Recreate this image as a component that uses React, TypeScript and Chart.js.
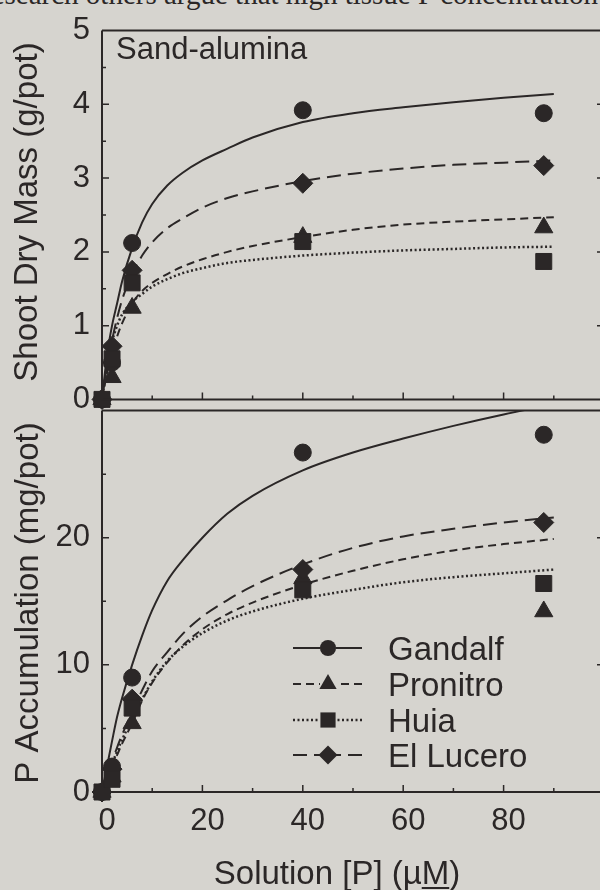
import React, { useEffect, useRef } from 'react';
import { Chart, registerables } from 'chart.js';

Chart.register(...registerables);

const INK = '#2b2727';
const BG = '#d6d4cf';
const FONT = "'Liberation Sans', Arial, Helvetica, sans-serif";

// ---------- data ----------
const SERIES = ['Gandalf', 'Pronitro', 'Huia', 'El Lucero'];
const POINT_X = [0, 2, 6, 40, 88];

// Shoot dry mass (g/pot), measured
const MASS_GANDALF = [0, 0.5, 2.12, 3.92, 3.88];
const MASS_PRONITRO = [0, 0.3, 1.24, 2.2, 2.33];
const MASS_HUIA = [0, 0.55, 1.58, 2.14, 1.87];
const MASS_ELLUCERO = [0, 0.72, 1.75, 2.93, 3.17];

// P accumulation (mg/pot), measured
const ACC_GANDALF = [0, 2.0, 9.0, 26.7, 28.1];
const ACC_PRONITRO = [0, 1.2, 5.4, 16.8, 14.2];
const ACC_HUIA = [0, 1.0, 6.6, 15.9, 16.4];
const ACC_ELLUCERO = [0, 1.8, 7.3, 17.5, 21.2];

// fitted curves
const CURVE_X = [0, 1, 2, 3, 4, 6, 8, 10, 13, 16, 20, 25, 30, 40, 50, 60, 70, 80, 90];
const MASS_FIT_GANDALF = [0, 0.6, 1.0, 1.3, 1.6, 2.05, 2.4, 2.65, 2.9, 3.07, 3.24, 3.4, 3.55, 3.76, 3.88, 3.96, 4.03, 4.09, 4.14];
const MASS_FIT_PRONITRO = [0, 0.35, 0.62, 0.85, 1.03, 1.3, 1.47, 1.58, 1.7, 1.8, 1.9, 2.0, 2.08, 2.2, 2.3, 2.37, 2.41, 2.44, 2.47];
const MASS_FIT_HUIA = [0, 0.45, 0.78, 1.0, 1.15, 1.32, 1.43, 1.53, 1.63, 1.71, 1.78, 1.85, 1.89, 1.95, 1.99, 2.02, 2.04, 2.06, 2.07];
const MASS_FIT_ELLUCERO = [0, 0.45, 0.8, 1.1, 1.35, 1.7, 1.95, 2.13, 2.32, 2.45, 2.6, 2.73, 2.82, 2.96, 3.06, 3.13, 3.18, 3.21, 3.24];

const ACC_FIT_GANDALF = [0, 2.0, 4.0, 5.9, 7.4, 10.0, 12.3, 14.3, 16.6, 18.2, 20.0, 21.9, 23.3, 25.3, 26.7, 27.8, 28.8, 29.7, 30.5];
const ACC_FIT_PRONITRO = [0, 1.0, 2.0, 2.9, 3.8, 5.4, 7.2, 8.6, 10.2, 11.5, 12.8, 14.0, 14.9, 16.3, 17.4, 18.3, 19.0, 19.5, 19.9];
const ACC_FIT_HUIA = [0, 1.1, 2.2, 3.2, 4.1, 5.8, 7.3, 8.7, 10.3, 11.4, 12.5, 13.5, 14.2, 15.2, 15.9, 16.5, 16.9, 17.2, 17.5];
const ACC_FIT_ELLUCERO = [0, 1.2, 2.4, 3.5, 4.5, 6.3, 8.0, 9.5, 11.0, 12.4, 13.8, 15.1, 16.2, 17.9, 19.2, 20.1, 20.7, 21.2, 21.6];

// ticks
const MASS_TICKS = [0, 1, 2, 3, 4, 5];
const MASS_MINOR = [0.5, 1.5, 2.5, 3.5, 4.5];
const ACC_TICKS = [0, 10, 20];
const ACC_MINOR = [5, 15, 25];
const X_TICKS = [0, 20, 40, 60, 80];
const X_MINOR = [10, 30, 50, 70, 90];

// ---------- styles ----------
const STYLES: Record<string, { shape: string; r: number; dash: number[]; lw: number }> = {
  Gandalf: { shape: 'circle', r: 8.5, dash: [], lw: 2 },
  Pronitro: { shape: 'triangle', r: 10.5, dash: [8, 5], lw: 2 },
  Huia: { shape: 'rect', r: 11.3, dash: [2, 2.5], lw: 2.5 },
  'El Lucero': { shape: 'rectRot', r: 10, dash: [14, 7], lw: 2 },
};

const TOP_H = 430;
const BOT_TOP = 380;
const BOT_H = 510;
const CW = 606;

function curveDs(ys: number[], name: string) {
  const s = STYLES[name];
  return {
    label: name + ' fit',
    data: CURVE_X.map((x, i) => ({ x, y: ys[i] })),
    borderColor: INK,
    borderWidth: s.lw,
    borderDash: s.dash,
    pointRadius: 0,
    cubicInterpolationMode: 'monotone',
    fill: false,
    showLine: true,
  };
}

function pointDs(ys: number[], name: string) {
  const s = STYLES[name];
  return {
    label: name,
    data: POINT_X.map((x, i) => ({ x, y: ys[i] })),
    showLine: false,
    pointStyle: s.shape,
    pointRadius: s.r,
    pointHoverRadius: s.r,
    pointBackgroundColor: INK,
    pointBorderColor: INK,
    pointBorderWidth: 1,
    clip: false,
  };
}

function drawShape(ctx: CanvasRenderingContext2D, shape: string, x: number, y: number, r: number) {
  ctx.beginPath();
  if (shape === 'circle') {
    ctx.arc(x, y, r, 0, Math.PI * 2);
  } else if (shape === 'triangle') {
    ctx.moveTo(x, y - r);
    ctx.lineTo(x + 0.866 * r, y + 0.5 * r);
    ctx.lineTo(x - 0.866 * r, y + 0.5 * r);
    ctx.closePath();
  } else if (shape === 'rect') {
    const h = Math.SQRT1_2 * r;
    ctx.rect(x - h, y - h, 2 * h, 2 * h);
  } else {
    ctx.moveTo(x - r, y);
    ctx.lineTo(x, y - r);
    ctx.lineTo(x + r, y);
    ctx.lineTo(x, y + r);
    ctx.closePath();
  }
  ctx.fill();
}

function frameAndTicks(chart: any, yMajor: number[], yMinor: number[], drawTop: boolean) {
  const { ctx, chartArea: a, scales } = chart;
  const x = scales.x;
  const y = scales.y;
  ctx.save();
  ctx.strokeStyle = INK;
  ctx.setLineDash([]);
  ctx.lineWidth = 2;
  ctx.beginPath();
  if (drawTop) {
    ctx.moveTo(a.left, a.top);
    ctx.lineTo(a.right, a.top);
  }
  ctx.moveTo(a.left, a.top);
  ctx.lineTo(a.left, a.bottom);
  ctx.lineTo(a.right, a.bottom);
  ctx.moveTo(a.right, a.top);
  ctx.lineTo(a.right, a.bottom);
  ctx.stroke();

  ctx.lineWidth = 1.5;
  ctx.beginPath();
  const yMin = y.min;
  const yMax = y.max;
  for (const v of yMajor) {
    if (v <= yMin || v >= yMax) continue;
    const py = y.getPixelForValue(v);
    ctx.moveTo(a.left, py);
    ctx.lineTo(a.left + 7, py);
    ctx.moveTo(a.right, py);
    ctx.lineTo(a.right - 7, py);
  }
  for (const v of yMinor) {
    const py = y.getPixelForValue(v);
    ctx.moveTo(a.left, py);
    ctx.lineTo(a.left + 4, py);
    ctx.moveTo(a.right, py);
    ctx.lineTo(a.right - 4, py);
  }
  for (const v of X_TICKS) {
    if (v === 0) continue;
    const px = x.getPixelForValue(v);
    ctx.moveTo(px, a.bottom);
    ctx.lineTo(px, a.bottom - 7);
  }
  for (const v of X_MINOR) {
    const px = x.getPixelForValue(v);
    ctx.moveTo(px, a.bottom);
    ctx.lineTo(px, a.bottom - 4);
  }
  ctx.stroke();
  ctx.restore();
}

function rotatedTitle(ctx: CanvasRenderingContext2D, text: string, x: number, y: number) {
  ctx.save();
  ctx.translate(x, y);
  ctx.rotate(-Math.PI / 2);
  ctx.fillStyle = INK;
  ctx.font = `33px ${FONT}`;
  ctx.textAlign = 'center';
  ctx.textBaseline = 'alphabetic';
  ctx.fillText(text, 0, 0);
  ctx.restore();
}

const topPlugin = {
  id: 'topDecor',
  afterDraw(chart: any) {
    frameAndTicks(chart, MASS_TICKS, MASS_MINOR, true);
    const ctx = chart.ctx as CanvasRenderingContext2D;
    rotatedTitle(ctx, 'Shoot Dry Mass (g/pot)', 37, 212);
    ctx.save();
    ctx.fillStyle = INK;
    ctx.font = `31px ${FONT}`;
    ctx.textAlign = 'left';
    ctx.textBaseline = 'alphabetic';
    ctx.fillText('Sand-alumina', 116, 59);
    ctx.restore();
  },
};

const bottomPlugin = {
  id: 'bottomDecor',
  afterDraw(chart: any) {
    frameAndTicks(chart, ACC_TICKS, ACC_MINOR, true);
    const ctx = chart.ctx as CanvasRenderingContext2D;
    const oy = BOT_TOP;
    rotatedTitle(ctx, 'P Accumulation (mg/pot)', 38, 603 - oy);

    // x title with underlined M
    ctx.save();
    ctx.fillStyle = INK;
    ctx.strokeStyle = INK;
    ctx.font = `33px ${FONT}`;
    ctx.textBaseline = 'alphabetic';
    ctx.textAlign = 'left';
    const title = 'Solution [P] (\u00b5M)';
    const w = ctx.measureText(title).width;
    const x0 = 337 - w / 2;
    const by = 884 - oy;
    ctx.fillText(title, x0, by);
    const pre = ctx.measureText('Solution [P] (\u00b5').width;
    const mw = ctx.measureText('M').width;
    ctx.lineWidth = 2;
    ctx.beginPath();
    ctx.moveTo(x0 + pre, by + 4);
    ctx.lineTo(x0 + pre + mw, by + 4);
    ctx.stroke();
    ctx.restore();

    // legend
    ctx.save();
    const rows = [660, 696, 732, 767];
    SERIES.forEach((name, i) => {
      const s = STYLES[name];
      const base = rows[i] - oy;
      const cy = base - 12;
      ctx.strokeStyle = INK;
      ctx.fillStyle = INK;
      ctx.lineWidth = s.lw;
      ctx.setLineDash(s.dash);
      ctx.beginPath();
      ctx.moveTo(293, cy);
      ctx.lineTo(320, cy);
      ctx.moveTo(362, cy);
      ctx.lineTo(336, cy);
      ctx.stroke();
      ctx.setLineDash([]);
      drawShape(ctx, s.shape, 328, cy, s.r * 0.95);
      ctx.font = `33px ${FONT}`;
      ctx.textAlign = 'left';
      ctx.textBaseline = 'alphabetic';
      ctx.fillText(name, 388, base);
    });
    ctx.restore();
  },
};

function makeConfig(
  points: number[][],
  fits: number[][],
  yMax: number,
  yTicks: number[],
  padding: any,
  showX: boolean,
  plugin: any,
) {
  const order = [2, 0, 3, 1];
  const pointSets = order.map((i) => pointDs(points[i], SERIES[i]));
  const curveSets = order.map((i) => curveDs(fits[i], SERIES[i]));
  return {
    type: 'line',
    data: { datasets: [...pointSets, ...curveSets] },
    options: {
      animation: false,
      responsive: false,
      maintainAspectRatio: false,
      devicePixelRatio: 1,
      layout: { padding, autoPadding: false },
      plugins: { legend: { display: false }, tooltip: { enabled: false } },
      scales: {
        x: {
          type: 'linear',
          min: 0,
          max: 100,
          display: showX,
          afterFit: (s: any) => {
            if (showX) s.height = 98;
          },
          afterBuildTicks: (s: any) => {
            s.ticks = X_TICKS.map((v) => ({ value: v }));
          },
          grid: { display: false, drawTicks: false },
          border: { display: false },
          ticks: {
            padding: 11,
            labelOffset: 5,
            maxRotation: 0,
            autoSkip: false,
            color: INK,
            font: { family: FONT, size: 31 },
          },
        },
        y: {
          type: 'linear',
          min: 0,
          max: yMax,
          afterFit: (s: any) => {
            s.width = 102;
          },
          afterBuildTicks: (s: any) => {
            s.ticks = yTicks.map((v) => ({ value: v }));
          },
          grid: { display: false, drawTicks: false },
          border: { display: false },
          ticks: {
            padding: 12,
            autoSkip: false,
            color: INK,
            font: { family: FONT, size: 31 },
          },
        },
      },
    },
    plugins: [plugin],
  };
}

export default function App() {
  const topRef = useRef<HTMLCanvasElement>(null);
  const botRef = useRef<HTMLCanvasElement>(null);

  useEffect(() => {
    const top = new Chart(
      topRef.current as HTMLCanvasElement,
      makeConfig(
        [MASS_GANDALF, MASS_PRONITRO, MASS_HUIA, MASS_ELLUCERO],
        [MASS_FIT_GANDALF, MASS_FIT_PRONITRO, MASS_FIT_HUIA, MASS_FIT_ELLUCERO],
        5,
        MASS_TICKS,
        { top: 27, left: 0, right: 2, bottom: TOP_H - 407 },
        false,
        topPlugin,
      ) as any,
    );
    const bottom = new Chart(
      botRef.current as HTMLCanvasElement,
      makeConfig(
        [ACC_GANDALF, ACC_PRONITRO, ACC_HUIA, ACC_ELLUCERO],
        [ACC_FIT_GANDALF, ACC_FIT_PRONITRO, ACC_FIT_HUIA, ACC_FIT_ELLUCERO],
        30,
        ACC_TICKS,
        { top: 407 - BOT_TOP, left: 0, right: 2, bottom: 0 },
        true,
        bottomPlugin,
      ) as any,
    );
    return () => {
      top.destroy();
      bottom.destroy();
    };
  }, []);

  return (
    <div
      style={{
        position: 'absolute',
        left: 0,
        top: 0,
        width: 600,
        height: 890,
        overflow: 'hidden',
        background: BG,
      }}
    >
      <div
        style={{
          position: 'absolute',
          left: -18,
          top: -20,
          whiteSpace: 'nowrap',
          fontFamily: "'Liberation Serif', 'Times New Roman', serif",
          fontSize: 29,
          lineHeight: '29px',
          color: INK,
        }}
      >
        research others argue that high tissue P concentration
      </div>
      <canvas
        ref={botRef}
        width={CW}
        height={BOT_H}
        style={{ position: 'absolute', left: 0, top: BOT_TOP, width: CW, height: BOT_H }}
      />
      <canvas
        ref={topRef}
        width={CW}
        height={TOP_H}
        style={{ position: 'absolute', left: 0, top: 0, width: CW, height: TOP_H }}
      />
    </div>
  );
}
